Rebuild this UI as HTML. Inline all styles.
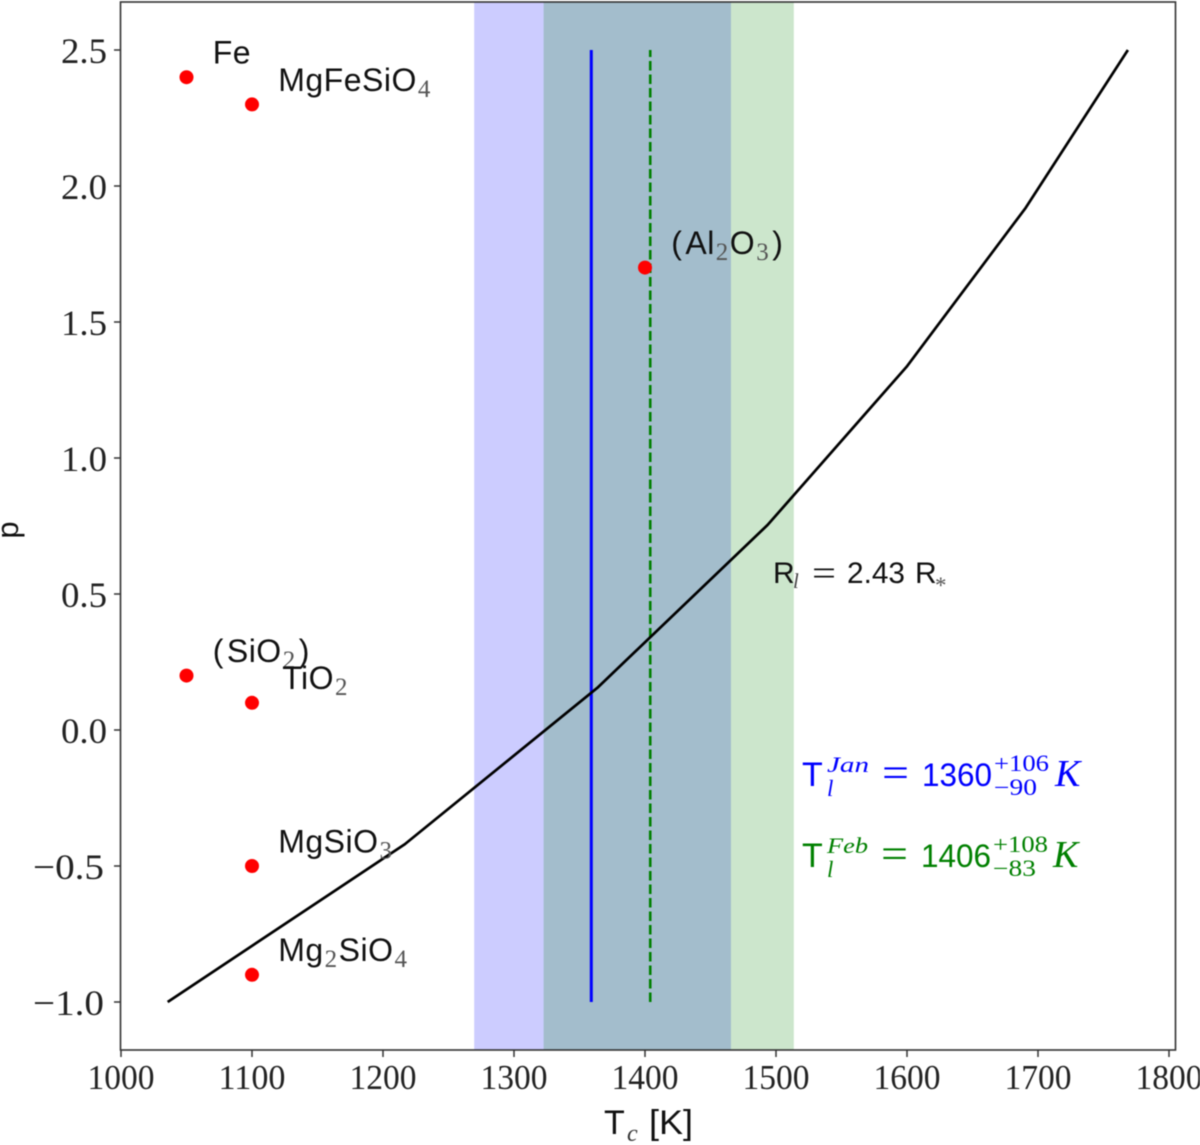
<!DOCTYPE html>
<html lang="en">
<head>
<meta charset="utf-8">
<title>Condensation temperature versus pressure</title>
<style>
  html, body { margin: 0; padding: 0; background: #fff; }
  body { width: 1200px; height: 1145px; overflow: hidden; }
  svg { display: block; filter: blur(0.45px); }
  .sans { font-family: "Liberation Sans", sans-serif; }
  .serif { font-family: "Liberation Serif", serif; }
  .it { font-family: "Liberation Serif", serif; font-style: italic; }
</style>
</head>
<body>
<svg id="chart" xmlns="http://www.w3.org/2000/svg" width="1200" height="1145" viewBox="0 0 1200 1145">
  <rect x="0" y="0" width="1200" height="1145" fill="#ffffff"/>
  <g id="bands"></g>
  <g id="lines"></g>
  <g id="curve"></g>
  <g id="points"></g>
  <g id="labels"></g>
  <rect x="120.5" y="2" width="1055" height="1048" fill="none" stroke="#333333" stroke-width="1.6"/>
  <g id="xticks"></g>
  <g id="yticks"></g>

  <g fill="#111111">
    <text class="sans" x="604" y="1134" font-size="34">T</text>
    <text class="it" x="627" y="1141" font-size="24" fill="#333333">c</text>
    <text class="sans" x="649" y="1134" font-size="34" textLength="44" lengthAdjust="spacingAndGlyphs">[K]</text>
  </g>
  <text class="sans" x="18" y="530" font-size="31" text-anchor="middle" fill="#111111" transform="rotate(-90 18 530)">p</text>

  <g fill="#111111">
    <text class="sans" x="773" y="583" font-size="30">R</text>
    <text class="it" x="793" y="588" font-size="21" fill="#444444">l</text>
    <text class="serif" x="812" y="585" font-size="36" textLength="24" lengthAdjust="spacingAndGlyphs">=</text>
    <text class="sans" x="847" y="583" font-size="30" textLength="58" lengthAdjust="spacingAndGlyphs">2.43</text>
    <text class="sans" x="915" y="583" font-size="30">R</text>
    <text class="serif" x="935" y="593" font-size="23" fill="#555555">*</text>
  </g>

  <g fill="#0000ff">
    <text class="sans" x="802" y="786" font-size="34">T</text>
    <text class="it" x="827" y="772" font-size="22" textLength="42" lengthAdjust="spacingAndGlyphs">Jan</text>
    <text class="it" x="827" y="796" font-size="23">l</text>
    <text class="serif" x="882" y="787" font-size="42" textLength="27" lengthAdjust="spacingAndGlyphs">=</text>
    <text class="sans" x="922" y="786" font-size="32" textLength="70" lengthAdjust="spacingAndGlyphs">1360</text>
    <text class="serif" x="994" y="771" font-size="23" textLength="55" lengthAdjust="spacingAndGlyphs">+106</text>
    <text class="serif" x="994" y="795" font-size="23" textLength="43" lengthAdjust="spacingAndGlyphs">−90</text>
    <text class="it" x="1055" y="786" font-size="38">K</text>
  </g>

  <g fill="#008000">
    <text class="sans" x="802" y="867" font-size="34">T</text>
    <text class="it" x="827" y="853" font-size="22" textLength="41" lengthAdjust="spacingAndGlyphs">Feb</text>
    <text class="it" x="827" y="877" font-size="23">l</text>
    <text class="serif" x="881" y="868" font-size="42" textLength="27" lengthAdjust="spacingAndGlyphs">=</text>
    <text class="sans" x="921" y="867" font-size="32" textLength="70" lengthAdjust="spacingAndGlyphs">1406</text>
    <text class="serif" x="993" y="852" font-size="23" textLength="55" lengthAdjust="spacingAndGlyphs">+108</text>
    <text class="serif" x="993" y="876" font-size="23" textLength="43" lengthAdjust="spacingAndGlyphs">−83</text>
    <text class="it" x="1053" y="867" font-size="38">K</text>
  </g>
</svg>

<script>
// ---- Data ----
const xTickValues = [1000, 1100, 1200, 1300, 1400, 1500, 1600, 1700, 1800];
const xTickLabels = ['1000', '1100', '1200', '1300', '1400', '1500', '1600', '1700', '1800'];
const yTickValues = [-1, -0.5, 0, 0.5, 1, 1.5, 2, 2.5];
const yTickLabels = ['−1.0', '−0.5', '0.0', '0.5', '1.0', '1.5', '2.0', '2.5'];

const curveTemps = [1036, 1217, 1364, 1494, 1600, 1691, 1769];
const curvePressures = [-1, -0.42, 0.155, 0.754, 1.335, 1.92, 2.5];

const speciesNames = ['Fe', 'MgFeSiO4', '(Al2O3)', '(SiO2)', 'TiO2', 'MgSiO3', 'Mg2SiO4'];
const speciesTemps = [1050, 1100, 1400, 1050, 1100, 1100, 1100];
const speciesPressures = [2.4, 2.3, 1.7, 0.2, 0.1, -0.5, -0.9];

const lineTemps = [1359, 1404];
const lineRange = [-1, 2.5];
const bandStarts = [1270, 1323];
const bandEnds = [1466, 1514];

// ---- Axis functions ----
const xScale = function (t) { return 121 + (t - 1000) * 1.31; };
const yScale = function (p) { return 730 - p * 272; };
const NS = 'http://www.w3.org/2000/svg';

function make(tag, parentId) {
  const node = document.createElementNS(NS, tag);
  document.getElementById(parentId).appendChild(node);
  return node;
}

// ---- Shaded bands ----
bandStarts.forEach(function (start, i) {
  const el = make('rect', 'bands');
  
  
  el.setAttribute('x', xScale(start) - 0.5);
  el.setAttribute('y', 2);
  el.setAttribute('width', xScale(bandEnds[i]) - xScale(start));
  el.setAttribute('height', 1048);
  el.setAttribute('fill', i === 0 ? '#0000ff' : '#008000');
  el.setAttribute('fill-opacity', 0.2);
});

// ---- Vertical temperature lines ----
lineTemps.forEach(function (t, i) {
  const el = make('line', 'lines');
  
  
  el.setAttribute('x1', xScale(t));
  el.setAttribute('x2', xScale(t));
  el.setAttribute('y1', yScale(lineRange[0]));
  el.setAttribute('y2', yScale(lineRange[1]));
  el.setAttribute('stroke', i === 0 ? '#0000ff' : '#008000');
  el.setAttribute('stroke-width', i === 0 ? 3 : 2.6);
  if (i === 1) el.setAttribute('stroke-dasharray', '9.5 4');
});

// ---- Condensation curve ----
const curveEl = make('polyline', 'curve');


curveEl.setAttribute('points', curveTemps.map(function (t, i) {
  return (xScale(t) - 0.5) + ',' + yScale(curvePressures[i]);
}).join(' '));
curveEl.setAttribute('fill', 'none');
curveEl.setAttribute('stroke', '#000000');
curveEl.setAttribute('stroke-width', 2.7);
curveEl.setAttribute('stroke-linejoin', 'round');

// ---- Species points and labels ----
speciesNames.forEach(function (name, i) {
  const dot = make('circle', 'points');
  
  
  dot.setAttribute('cx', xScale(speciesTemps[i]));
  dot.setAttribute('cy', yScale(speciesPressures[i]));
  dot.setAttribute('r', 7);
  dot.setAttribute('fill', '#ff0000');

  const label = make('text', 'labels');
  
  
  label.setAttribute('x', xScale(speciesTemps[i] + 20) + (name.charAt(0) === 'T' ? 4 : 0));
  label.setAttribute('y', yScale(speciesPressures[i] + 0.05));
  label.setAttribute('class', 'sans');
  label.setAttribute('font-size', 32);
  label.setAttribute('fill', '#111111');
  label.setAttribute('letter-spacing', '0.5');

  let shift = 0;
  let previous = '';
  name.match(/\(|\)|\d+|[^()\d]+/g).forEach(function (part) {
    const span = document.createElementNS(NS, 'tspan');
    const isSub = /^\d+$/.test(part);
    const dy = (isSub ? 6 : 0) - shift;
    shift = isSub ? 6 : 0;
    span.setAttribute('dy', dy);
    let dx = 0;
    if (previous === '(') dx = 3;
    if (part === ')') dx = 2;
    if (isSub) dx = 1;
    if (/^\d+$/.test(previous)) dx += 1;
    span.setAttribute('dx', dx);
    if (isSub) {
      span.setAttribute('class', 'serif');
      span.setAttribute('font-size', 25);
      span.setAttribute('fill', '#555555');
    }
    span.textContent = part;
    label.appendChild(span);
    previous = part;
  });
});

// ---- Ticks ----
xTickValues.forEach(function (v, i) {
  const tick = make('line', 'xticks');
  
  
  tick.setAttribute('x1', xScale(v));
  tick.setAttribute('x2', xScale(v));
  tick.setAttribute('y1', 1050);
  tick.setAttribute('y2', 1057);
  tick.setAttribute('stroke', '#333333');
  tick.setAttribute('stroke-width', 1.5);

  const text = make('text', 'xticks');
  
  
  text.setAttribute('x', xScale(v) - 33.5);
  text.setAttribute('y', 1089);
  text.setAttribute('class', 'serif');
  text.setAttribute('font-size', 35);
  text.setAttribute('fill', '#222222');
  text.setAttribute('textLength', 67);
  text.setAttribute('lengthAdjust', 'spacingAndGlyphs');
  text.textContent = xTickLabels[i];
});

yTickValues.forEach(function (v, i) {
  const tick = make('line', 'yticks');
  
  
  tick.setAttribute('x1', 114);
  tick.setAttribute('x2', 120.5);
  tick.setAttribute('y1', yScale(v));
  tick.setAttribute('y2', yScale(v));
  tick.setAttribute('stroke', '#333333');
  tick.setAttribute('stroke-width', 1.5);

  const negative = v < 0;
  const text = make('text', 'yticks');
  
  
  text.setAttribute('x', negative ? 33 : 61);
  text.setAttribute('y', yScale(v) + 13);
  text.setAttribute('class', 'serif');
  text.setAttribute('font-size', 36);
  text.setAttribute('fill', '#222222');
  text.setAttribute('textLength', negative ? 71 : 46);
  text.setAttribute('lengthAdjust', 'spacingAndGlyphs');
  text.textContent = yTickLabels[i];
});
</script>
</body>
</html>
